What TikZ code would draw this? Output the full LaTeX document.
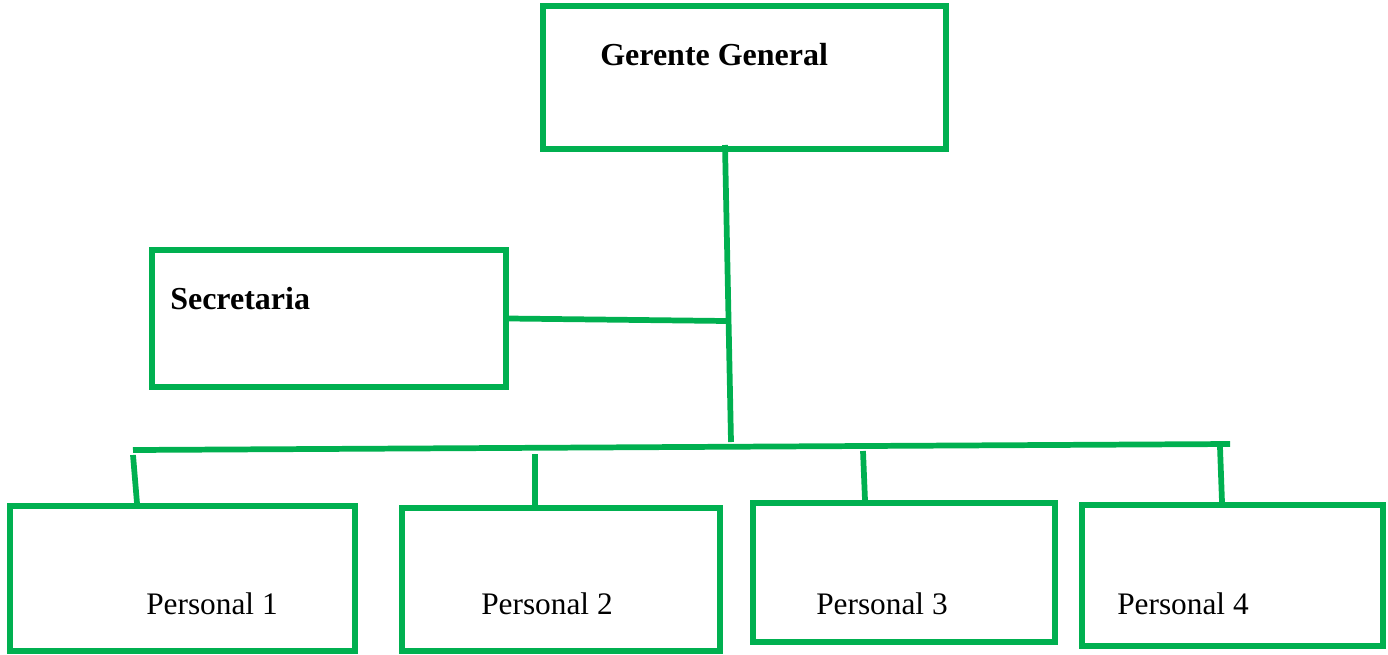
\documentclass[tikz,border=0pt]{standalone}
\usepackage{fontspec}
\setmainfont{Liberation Serif}
\usepackage{xcolor}
\usetikzlibrary{positioning,fit,calc}
\definecolor{verde}{HTML}{00B050}

\begin{document}
\begin{tikzpicture}[x=0.75pt, y=-0.75pt,
    caja/.style={rectangle, draw=verde, line width=4.3pt, inner sep=0pt},
    enlace/.style={draw=verde, line width=4.3pt},
    titulo/.style={anchor=base west, inner sep=0pt, font=\fontsize{24}{28}\selectfont\bfseries},
    texto/.style={anchor=base west, inner sep=0pt, font=\fontsize{23.5}{28}\selectfont}]
    \useasboundingbox (0,0) rectangle (1388,654);

    % Gerente General
    \node[caja, fit={(543,6) (946,149)}] (G) {};
    \node[titulo] (tG) at (600,65) {Gerente General};

    % Secretaria
    \node[caja, fit={(152,250) (506,387)}] (S) {};
    \node[titulo] (tS) at (170,309) {Secretaria};

    % Personal
    \node[caja, fit={(10,506) (355,651)}] (P1) {};
    \node[caja, fit={(402,508) (720,651)}] (P2) {};
    \node[caja, fit={(753,503) (1055,642)}] (P3) {};
    \node[caja, fit={(1082,505) (1383,646)}] (P4) {};
    \node[texto] (t1) at (146,614) {Personal 1};
    \node[texto] (t2) at (481,614) {Personal 2};
    \node[texto] (t3) at (816,614) {Personal 3};
    \node[texto] (t4) at (1117,614) {Personal 4};

    % Enlaces
    \coordinate (G0) at (725,145);
    \coordinate (S0) at (727,321);
    \coordinate (B0) at (731,442);
    \coordinate (BL) at (133,450);
    \coordinate (BR) at (1230,444);
    \draw[enlace] (G0) -- (B0);
    \draw[enlace] (S.east) -- (S0);
    \draw[enlace] (BL) -- (BR);
    \foreach \i/\xa/\ya/\xb in {1/133/455/137, 2/535/454/535, 3/863/451/865, 4/1220/447/1222}
        \draw[enlace] (\xa,\ya) -- (\xb,0 |- P\i.north);
\end{tikzpicture}
\end{document}
